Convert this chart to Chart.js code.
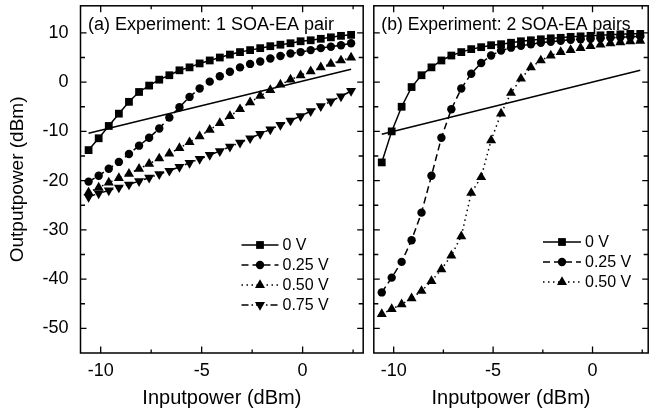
<!DOCTYPE html>
<html><head><meta charset="utf-8">
<script src="https://cdn.jsdelivr.net/npm/chart.js@4/dist/chart.umd.min.js"></script>
<style>
html,body{margin:0;padding:0;background:#fff;}
#wrap{position:relative;width:654px;height:415px;overflow:hidden;background:#fff;}
#c1{position:absolute;left:0;top:0;}
#c2{position:absolute;left:368px;top:0;}
</style></head><body>
<div id="wrap"><canvas id="c1" width="369" height="415"></canvas><canvas id="c2" width="286" height="415"></canvas></div>
<script>
// ---- data (dBm) ----
const inputPower = [-10.6,-10.1,-9.6,-9.1,-8.6,-8.1,-7.6,-7.1,-6.6,-6.1,-5.6,-5.1,-4.6,-4.1,-3.6,-3.1,-2.6,-2.1,-1.6,-1.1,-0.6,-0.1,0.4,0.9,1.4,1.9,2.4];
// (a) one SOA-EA pair
const a_0V   = [-13.8,-11.4,-8.9,-6.4,-4.0,-2.0,-0.7,0.5,1.4,2.4,3.0,3.8,4.4,5.0,5.6,6.1,6.5,6.9,7.3,7.6,7.9,8.3,8.5,8.8,9.1,9.4,9.6];
const a_025V = [-20.2,-19.0,-17.6,-16.2,-14.6,-12.9,-11.3,-9.4,-7.2,-5.1,-3.0,-1.3,0.1,1.2,2.1,3.0,3.7,4.2,4.8,5.3,5.8,6.1,6.5,6.9,7.2,7.5,7.9];
const a_050V = [-22.4,-21.4,-20.4,-19.5,-18.6,-17.6,-16.6,-15.5,-14.5,-13.4,-12.2,-11.0,-9.7,-8.3,-6.9,-5.5,-4.1,-2.8,-1.6,-0.5,0.5,1.4,2.2,3.0,3.7,4.4,5.0];
const a_075V = [-23.3,-22.6,-22.0,-21.4,-20.8,-20.1,-19.4,-18.7,-18.0,-17.2,-16.4,-15.6,-14.8,-14.0,-13.1,-12.3,-11.4,-10.5,-9.6,-8.7,-7.8,-6.9,-5.9,-4.9,-3.9,-2.9,-1.8];
// (b) two SOA-EA pairs
const b_0V   = [-16.3,-10.0,-5.0,-1.0,1.4,3.0,4.4,5.4,6.1,6.7,7.1,7.5,7.7,8.0,8.3,8.5,8.7,8.9,9.0,9.2,9.3,9.4,9.5,9.6,9.7,9.8,9.8];
const b_025V = [-42.7,-39.7,-36.5,-32.1,-26.5,-19.0,-11.3,-5.5,-1.3,1.7,3.9,5.4,6.4,7.0,7.4,7.7,8.0,8.2,8.4,8.6,8.7,8.8,8.9,9.0,9.1,9.2,9.3];
const b_050V = [-47.1,-46.1,-45.1,-43.9,-42.4,-40.4,-38.0,-35.2,-31.3,-22.5,-19.3,-11.8,-6.4,-2.2,0.7,3.0,4.4,5.4,6.1,6.5,6.9,7.3,7.6,7.9,8.1,8.3,8.4];
// reference (linear) lines
const refX  = [-10.6, 2.4];
const a_ref = [-10.4, 2.6];
const b_ref = [-10.6, 2.4];
// ticks / labels
const xTickLabels = [-10, -5, 0];
const xMinorTicks = [-7.5, -2.5, 2.5];
const yTickLabels = [-50, -40, -30, -20, -10, 0, 10];
const yMinorTicks = [-45, -35, -25, -15, -5, 5];
const seriesLabels = ['0 V', '0.25 V', '0.50 V', '0.75 V'];
const panelTitles = ['(a) Experiment: 1 SOA-EA pair', '(b) Experiment: 2 SOA-EA pairs'];
const xTitle = 'Inputpower (dBm)';
const yTitle = 'Outputpower (dBm)';

const FONT = "'Liberation Sans', Arial, Helvetica, sans-serif";
const pts = (xs, ys) => xs.map((x, i) => ({x, y: ys[i]}));

const styles = [
  {pointStyle: 'rect', pointRadius: 5.5, borderDash: [], rotation: 0},
  {pointStyle: 'circle', pointRadius: 4.2, borderDash: [7, 4], rotation: 0},
  {pointStyle: 'triangle', pointRadius: 5.8, borderDash: [1.5, 3.5], rotation: 0},
  {pointStyle: 'triangle', pointRadius: 5.8, borderDash: [7, 3, 1.5, 3], rotation: 180}
];

function series(ys, i) {
  const s = styles[i];
  return {
    label: seriesLabels[i], data: pts(inputPower, ys), inLegend: true,
    borderColor: '#000', backgroundColor: '#000', borderWidth: 1.5,
    borderDash: s.borderDash, pointStyle: s.pointStyle, pointRadius: s.pointRadius,
    pointRotation: s.rotation, pointBorderWidth: 0, pointHoverRadius: s.pointRadius,
    tension: 0, clip: false
  };
}
function refLine(ys) {
  return {label: 'ref', data: pts(refX, ys), inLegend: false, borderColor: '#000', borderWidth: 1.5,
    pointRadius: 0, tension: 0};
}

function drawMarker(ctx, style, r, rot, x, y) {
  ctx.beginPath();
  if (style === 'rect') {
    const s = r * Math.SQRT1_2;
    ctx.rect(x - s, y - s, 2 * s, 2 * s);
  } else if (style === 'circle') {
    ctx.arc(x, y, r, 0, Math.PI * 2);
  } else {
    let a = rot * Math.PI / 180;
    ctx.moveTo(x + Math.sin(a) * r, y - Math.cos(a) * r);
    a += 2 * Math.PI / 3; ctx.lineTo(x + Math.sin(a) * r, y - Math.cos(a) * r);
    a += 2 * Math.PI / 3; ctx.lineTo(x + Math.sin(a) * r, y - Math.cos(a) * r);
    ctx.closePath();
  }
  ctx.fill();
}

const framePlugin = {
  id: 'frame',
  afterDraw(chart, args, opts) {
    const {ctx, chartArea: a} = chart;
    const x = chart.scales.x, y = chart.scales.y;
    ctx.save();
    ctx.strokeStyle = '#000';
    ctx.lineWidth = 1.5;
    ctx.strokeRect(a.left, a.top, a.right - a.left, a.bottom - a.top);
    ctx.lineWidth = 1.3;
    ctx.beginPath();
    const yt = (list, len) => list.forEach(v => {
      const p = y.getPixelForValue(v);
      ctx.moveTo(a.left, p); ctx.lineTo(a.left + len, p);
      ctx.moveTo(a.right, p); ctx.lineTo(a.right - len, p);
    });
    const xt = (list, len) => list.forEach(v => {
      const p = x.getPixelForValue(v);
      if (p < a.left || p > a.right) return;
      ctx.moveTo(p, a.bottom); ctx.lineTo(p, a.bottom - len);
      ctx.moveTo(p, a.top); ctx.lineTo(p, a.top + len);
    });
    yt(yTickLabels, 6); yt(yMinorTicks, 4.5);
    xt(xTickLabels, 6.5); xt(xMinorTicks, 3.5);
    ctx.stroke();

    // panel title
    ctx.fillStyle = '#000';
    ctx.font = opts.titleSize + 'px ' + FONT;
    ctx.textBaseline = 'middle';
    ctx.textAlign = 'left';
    ctx.fillText(opts.title, a.left + opts.titleDx, 25.5);

    // legend
    const L = opts.legend;
    const items = chart.data.datasets.filter(d => d.inLegend);
    items.forEach((d, i) => {
      const yy = L.y + i * L.dy;
      ctx.save();
      ctx.lineWidth = 1.5;
      ctx.setLineDash(d.borderDash || []);
      ctx.beginPath();
      ctx.moveTo(L.x0, yy); ctx.lineTo(L.x1, yy);
      ctx.stroke();
      ctx.restore();
      drawMarker(ctx, d.pointStyle, d.pointRadius, d.pointRotation, (L.x0 + L.x1) / 2, yy);
      ctx.font = '16px ' + FONT;
      ctx.fillText(d.label, L.x1 + 4, yy + 0.5);
    });
    ctx.restore();
  }
};

function zeroPad(s) { s.paddingTop = 0; s.paddingBottom = 0; s.paddingLeft = 0; s.paddingRight = 0; }

function xScale(min, max) {
  return {
    type: 'linear', min, max,
    afterBuildTicks: s => { s.ticks = xTickLabels.map(v => ({value: v})); },
    grid: {display: false, drawTicks: false}, border: {display: false},
    ticks: {font: {family: FONT, size: 18}, color: '#000', padding: 7, maxRotation: 0, autoSkip: false,
      callback: v => String(v)},
    title: {display: true, text: xTitle, font: {family: FONT, size: 20}, color: '#000', padding: {top: 0, bottom: 5}},
    afterFit: s => { s.height = 62; zeroPad(s); }
  };
}

const commonOpts = {
  responsive: false, animation: false, devicePixelRatio: 1,
  events: []
};

new Chart(document.getElementById('c1'), {
  type: 'line',
  data: {datasets: [refLine(a_ref), series(a_0V, 0), series(a_025V, 1), series(a_050V, 2), series(a_075V, 3)]},
  options: Object.assign({}, commonOpts, {
    layout: {padding: {left: 0, right: 0.5, top: 5, bottom: 0}},
    scales: {
      x: xScale(-11, 3),
      y: {
        type: 'linear', min: -55, max: 15.5,
        afterBuildTicks: s => { s.ticks = yTickLabels.map(v => ({value: v})); },
        grid: {display: false, drawTicks: false}, border: {display: false},
        ticks: {font: {family: FONT, size: 18}, color: '#000', padding: 12, callback: v => String(v)},
        title: {display: true, text: yTitle, font: {family: FONT, size: 19}, color: '#000', padding: {top: 6, bottom: 0}},
        afterFit: s => { s.width = 80.5; zeroPad(s); }
      }
    },
    plugins: {legend: {display: false}, tooltip: {enabled: false},
      frame: {title: panelTitles[0], titleSize: 18, titleDx: 7.5, legend: {x0: 241.5, x1: 278.5, y: 245, dy: 20}}}
  }),
  plugins: [framePlugin]
});

new Chart(document.getElementById('c2'), {
  type: 'line',
  data: {datasets: [refLine(b_ref), series(b_0V, 0), series(b_025V, 1), series(b_050V, 2)]},
  options: Object.assign({}, commonOpts, {
    layout: {padding: {left: 0.5, right: 1, top: 5, bottom: 0}},
    scales: {
      x: xScale(-11, 2.8),
      y: {type: 'linear', min: -55, max: 15.5, display: false}
    },
    plugins: {legend: {display: false}, tooltip: {enabled: false},
      frame: {title: panelTitles[1], titleSize: 17.6, titleDx: 7.5, legend: {x0: 175, x1: 213, y: 242, dy: 20}}}
  }),
  plugins: [framePlugin]
});
</script>
</body></html>
